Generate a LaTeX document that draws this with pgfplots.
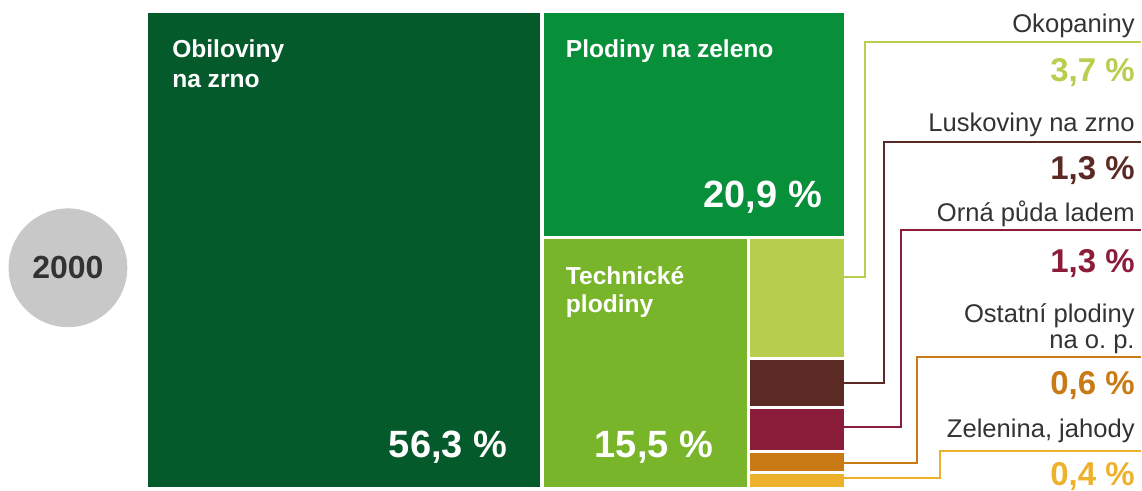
\documentclass[border=0pt]{standalone}
\usepackage{fontspec}
\setmainfont{Liberation Sans}
\usepackage{pgfplots}
\pgfplotsset{compat=1.18}
\definecolor{cObil}{HTML}{045A2B}
\definecolor{cZel}{HTML}{078F3A}
\definecolor{cTech}{HTML}{79B52A}
\definecolor{cOkop}{HTML}{B8CE4E}
\definecolor{cLusk}{HTML}{5B2A25}
\definecolor{cOrna}{HTML}{8C1D3A}
\definecolor{cOst}{HTML}{C97A14}
\definecolor{cZelen}{HTML}{EDB12C}
\definecolor{cText}{HTML}{333333}
\definecolor{cCirc}{HTML}{C8C8C8}
\begin{document}
\begin{tikzpicture}
\begin{axis}[width=571pt,height=244.5pt,scale only axis,
  xmin=0,xmax=1142,ymin=0,ymax=489,y dir=reverse,hide axis,clip=false]
% frame for bounding box
\addplot[draw=none] coordinates {(0,0)(1142,489)};
% treemap tiles (pixel layout)
\addplot[fill=cObil,draw=none] coordinates {(148,13)(540,13)(540,487)(148,487)} --cycle;
\addplot[fill=cZel,draw=none] coordinates {(544,13)(845,13)(845,236)(544,236)} --cycle;
\addplot[fill=cTech,draw=none] coordinates {(544,239)(748,239)(748,487)(544,487)} --cycle;
\addplot[fill=cOkop,draw=none] coordinates {(751,239)(845,239)(845,357)(751,357)} --cycle;
\addplot[fill=cLusk,draw=none] coordinates {(751,360)(845,360)(845,406)(751,406)} --cycle;
\addplot[fill=cOrna,draw=none] coordinates {(751,409)(845,409)(845,450)(751,450)} --cycle;
\addplot[fill=cOst,draw=none] coordinates {(751,453)(845,453)(845,471)(751,471)} --cycle;
\addplot[fill=cZelen,draw=none] coordinates {(751,474)(845,474)(845,487)(751,487)} --cycle;
% leader lines
\addplot[cOkop,line width=1pt] coordinates {(845,277)(866,277)(866,42)(1142,42)};
\addplot[cLusk,line width=1pt] coordinates {(845,383)(885,383)(885,142)(1142,142)};
\addplot[cOrna,line width=1pt] coordinates {(845,427)(902,427)(902,230)(1142,230)};
\addplot[cOst,line width=1pt] coordinates {(845,463)(918,463)(918,357)(1142,357)};
\addplot[cZelen,line width=1pt] coordinates {(845,478)(941,478)(941,451)(1142,451)};
% year badge
\addplot[only marks,mark=*,mark size=29.5pt,cCirc] coordinates {(68,268)};
\coordinate (yr) at (axis cs:68,268);
% labels inside tiles
\begin{scope}[every node/.style={inner sep=0pt,text=white}]
\node[anchor=base west,font=\fontsize{12.3pt}{14pt}\selectfont\bfseries] at (axis cs:172,58) {Obiloviny};
\node[anchor=base west,font=\fontsize{12.3pt}{14pt}\selectfont\bfseries] at (axis cs:172,88) {na zrno};
\node[anchor=base east,font=\fontsize{19pt}{21pt}\selectfont\bfseries] at (axis cs:508,458) {56,3~\%};
\node[anchor=base west,font=\fontsize{12.3pt}{14pt}\selectfont\bfseries] at (axis cs:566,58) {Plodiny na zeleno};
\node[anchor=base east,font=\fontsize{19pt}{21pt}\selectfont\bfseries] at (axis cs:823,208) {20,9~\%};
\node[anchor=base west,font=\fontsize{12.3pt}{14pt}\selectfont\bfseries] at (axis cs:566,285) {Technické};
\node[anchor=base west,font=\fontsize{12.3pt}{14pt}\selectfont\bfseries] at (axis cs:566,313) {plodiny};
\node[anchor=base east,font=\fontsize{19pt}{21pt}\selectfont\bfseries] at (axis cs:714,458) {15,5~\%};
\end{scope}
% labels on the right
\begin{scope}[every node/.style={inner sep=0pt,anchor=base east}]
\node[font=\fontsize{12.8pt}{14pt}\selectfont,text=cText] at (axis cs:1136,33) {Okopaniny};
\node[font=\fontsize{16.5pt}{18pt}\selectfont\bfseries,text=cOkop] at (axis cs:1136,82) {3,7~\%};
\node[font=\fontsize{12.8pt}{14pt}\selectfont,text=cText] at (axis cs:1136,132) {Luskoviny na zrno};
\node[font=\fontsize{16.5pt}{18pt}\selectfont\bfseries,text=cLusk] at (axis cs:1136,180) {1,3~\%};
\node[font=\fontsize{12.8pt}{14pt}\selectfont,text=cText] at (axis cs:1136,222) {Orná půda ladem};
\node[font=\fontsize{16.5pt}{18pt}\selectfont\bfseries,text=cOrna] at (axis cs:1136,273) {1,3~\%};
\node[font=\fontsize{12.8pt}{14pt}\selectfont,text=cText] at (axis cs:1136,323) {Ostatní plodiny};
\node[font=\fontsize{12.8pt}{14pt}\selectfont,text=cText] at (axis cs:1136,349) {na o.~p.};
\node[font=\fontsize{16.5pt}{18pt}\selectfont\bfseries,text=cOst] at (axis cs:1136,395) {0,6~\%};
\node[font=\fontsize{12.8pt}{14pt}\selectfont,text=cText] at (axis cs:1136,438) {Zelenina, jahody};
\node[font=\fontsize{16.5pt}{18pt}\selectfont\bfseries,text=cZelen] at (axis cs:1136,486) {0,4~\%};
\end{scope}
\end{axis}
\node[anchor=center,font=\fontsize{16pt}{18pt}\selectfont\bfseries,text=cText] at (yr) {2000};
\end{tikzpicture}
\end{document}
